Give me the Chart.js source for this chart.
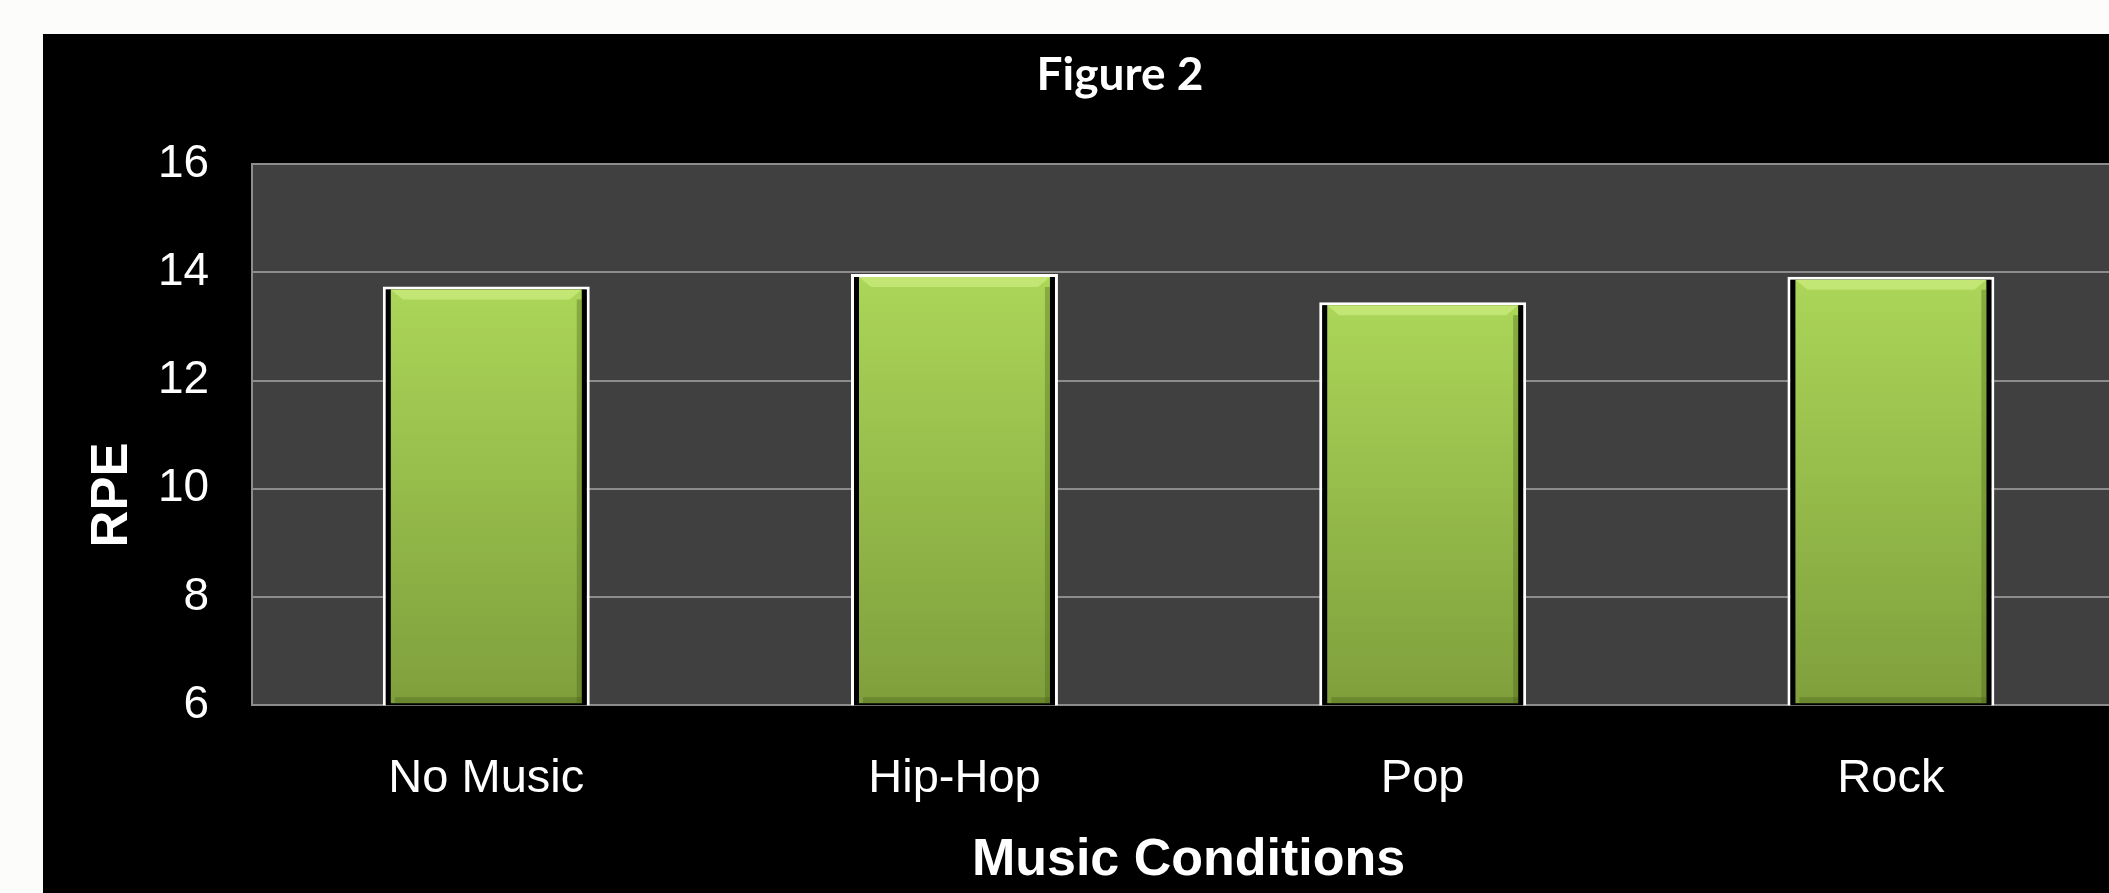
<!DOCTYPE html>
<html>
<head>
<meta charset="utf-8">
<script src="https://cdn.jsdelivr.net/npm/chart.js@4"></script>
<style>
  html, body { margin: 0; padding: 0; background: #fcfcfb; overflow: hidden; width: 2109px; height: 893px; }
  #wrap { position: absolute; left: 43px; top: 34px; background: #000; }
</style>
</head>
<body>
<div id="wrap"><canvas id="grafico" width="2144" height="859"></canvas></div>
<script>
const categorias = ["No Music", "Hip-Hop", "Pop", "Rock"];
const rpe = [13.74, 13.97, 13.45, 13.92];
const ticksY = [6, 8, 10, 12, 14, 16];

// fondo del área del gráfico
const fondoArea = {
  id: "fondoArea",
  beforeDraw(chart) {
    const { ctx, chartArea: a } = chart;
    ctx.save();
    ctx.fillStyle = "#404040";
    ctx.fillRect(a.left, a.top, a.right - a.left, a.bottom - a.top);
    ctx.restore();
  }
};

// relleno verde con bisel dentro de cada barra
const barraVerde = {
  id: "barraVerde",
  afterDatasetsDraw(chart) {
    const { ctx, chartArea: a } = chart;
    chart.getDatasetMeta(0).data.forEach((bar) => {
      const left = bar.x - bar.width / 2 + 8;
      const right = bar.x + bar.width / 2 - 8;
      const top = bar.y + 3;
      const bottom = Math.min(bar.base, a.bottom) - 2;
      const g = ctx.createLinearGradient(0, top, 0, bottom);
      g.addColorStop(0, "#abd658");
      g.addColorStop(1, "#7f9f3c");
      ctx.save();
      ctx.fillStyle = g;
      ctx.fillRect(left, top, right - left, bottom - top);
      // brillo superior
      ctx.fillStyle = "rgba(225,250,150,0.45)";
      ctx.beginPath();
      ctx.moveTo(left, top);
      ctx.lineTo(right, top);
      ctx.lineTo(right - 12, top + 10);
      ctx.lineTo(left + 12, top + 10);
      ctx.closePath();
      ctx.fill();
      // sombra derecha e inferior
      ctx.fillStyle = "rgba(70,95,20,0.35)";
      ctx.fillRect(right - 5, top + 10, 5, bottom - top - 10);
      ctx.fillRect(left + 4, bottom - 6, right - left - 4, 6);
      ctx.restore();
    });
  }
};

// título del eje Y
const tituloY = {
  id: "tituloY",
  afterDraw(chart) {
    const { ctx } = chart;
    ctx.save();
    ctx.translate(70, 461);
    ctx.rotate(-Math.PI / 2);
    ctx.fillStyle = "#ffffff";
    ctx.font = "bold 51px 'Liberation Sans', Arial, sans-serif";
    ctx.textAlign = "center";
    ctx.textBaseline = "middle";
    ctx.fillText("RPE", 0, 0);
    ctx.restore();
  }
};

const ctx = document.getElementById("grafico").getContext("2d");
new Chart(ctx, {
  type: "bar",
  data: {
    labels: categorias,
    datasets: [{
      label: "RPE",
      data: rpe,
      backgroundColor: "#000000",
      borderColor: "#ffffff",
      borderWidth: { top: 3, left: 3, right: 3, bottom: 0 },
      borderSkipped: false,
      categoryPercentage: 1,
      barPercentage: 0.442
    }]
  },
  options: {
    responsive: false,
    animation: false,
    layout: { padding: { left: 72, right: 62, top: 0, bottom: 0 } },
    plugins: {
      legend: { display: false },
      tooltip: { enabled: false },
      title: {
        display: true,
        text: "Figure 2",
        color: "#ffffff",
        font: { family: "Lato, 'Open Sans', sans-serif", size: 46, weight: "bold" },
        padding: { top: 14, bottom: 61 }
      }
    },
    scales: {
      x: {
        grid: { display: false, drawTicks: false },
        border: { display: true, color: "#8c8c8c", width: 2 },
        ticks: {
          color: "#ffffff",
          padding: 46,
          font: { family: "'Liberation Sans', Arial, sans-serif", size: 47 }
        },
        title: {
          display: true,
          text: "Music Conditions",
          color: "#ffffff",
          padding: { top: -24, bottom: 1 },
          font: { family: "'Liberation Sans', Arial, sans-serif", size: 52, weight: "bold" }
        }
      },
      y: {
        min: 6,
        max: 16,
        afterBuildTicks: (axis) => { axis.ticks = ticksY.map((v) => ({ value: v })); },
        grid: { color: "#8c8c8c", lineWidth: 2, drawTicks: false },
        border: { display: true, color: "#8c8c8c", width: 2 },
        ticks: {
          color: "#ffffff",
          padding: 43,
          font: { family: "'Liberation Sans', Arial, sans-serif", size: 46 }
        }
      }
    }
  },
  plugins: [fondoArea, barraVerde, tituloY]
});
</script>
</body>
</html>
